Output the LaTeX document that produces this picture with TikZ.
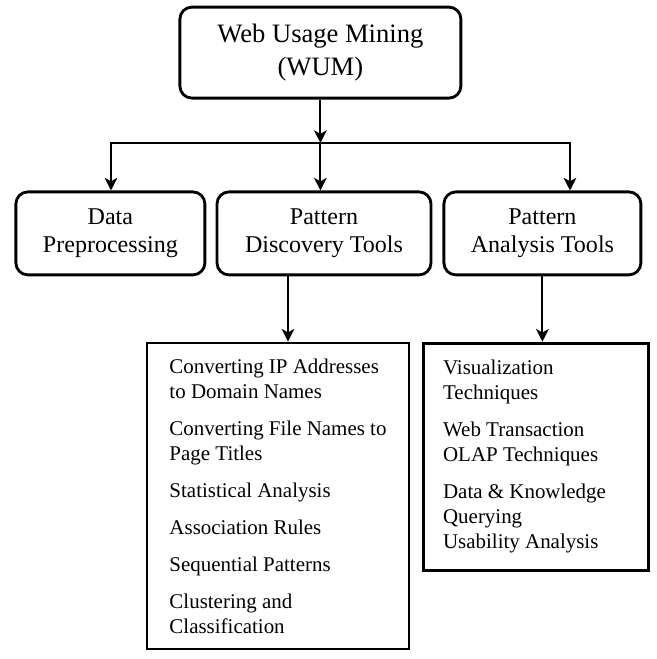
\documentclass[tikz,border=0pt]{standalone}
\usepackage{fontspec}
\setmainfont{Liberation Serif}
\usetikzlibrary{arrows.meta}

\def \boxline {2pt}
\def \arrline {1.4pt}
\def \itemgap {8.5pt}

\begin{document}
\begin{tikzpicture}[
  >={Stealth[length=9pt,width=9pt,inset=2.5pt]},
  topbox/.style={draw, rounded corners=0.3cm, line width=\boxline, minimum width=7.025cm, minimum height=2.275cm, align=center, font=\fontsize{18.9}{22.8}\selectfont},
  midbox/.style={draw, rounded corners=0.3cm, line width=\boxline, minimum height=2.075cm, align=center, font=\fontsize{17.1}{19.9}\selectfont},
  listbox/.style={draw, line width=\boxline, align=left, inner xsep=0.5cm, font=\fontsize{14.9}{17.8}\selectfont},
  link/.style={->, line width=\arrline}
]
\useasboundingbox (0,0) rectangle (16.425,16.475);

\node[topbox] (wum) at (8.01,15.16) {Web Usage Mining\\(WUM)};
\node[midbox, minimum width=4.725cm] (prep) at (2.76,10.64) {Data\\Preprocessing};
\node[midbox, minimum width=5.35cm] (disc) at (8.1,10.64) {Pattern\\Discovery Tools};
\node[midbox, minimum width=4.925cm] (anal) at (13.56,10.64) {Pattern\\Analysis Tools};

\node[listbox, minimum width=6.55cm, minimum height=7.65cm] (disclist) at (6.95,4.075)
  {Converting IP Addresses\\to Domain Names\\[\itemgap]
   Converting File Names to\\Page Titles\\[\itemgap]
   Statistical Analysis\\[\itemgap]
   Association Rules\\[\itemgap]
   Sequential Patterns\\[\itemgap]
   Clustering and\\Classification};
\node[listbox, text width=4.625cm, minimum height=5.675cm] (anallist) at (13.39,5.06)
  {\spaceskip=0pt\xspaceskip=0pt
   Visualization\\Techniques\\[\itemgap]
   Web Transaction\\OLAP Techniques\\[\itemgap]
   Data \& Knowledge\\Querying\\Usability Analysis};

% split line under the root
\coordinate (hl) at (2.775,12.9);
\coordinate (hr) at (14.25,12.9);
\draw[link] (wum) -- (wum |- hl);
\draw[<->, line width=\arrline] (hl |- prep.north) -- (hl) -- (hr) -- (hr |- anal.north);
\draw[link] (wum |- hl) -- (wum |- disc.north);

% tools to their lists
\draw[link] ([xshift=-0.9cm]disc.south) -- ([xshift=-0.9cm]disc.south |- disclist.north);
\draw[link] (anal) -- (anal |- anallist.north);
\end{tikzpicture}
\end{document}
